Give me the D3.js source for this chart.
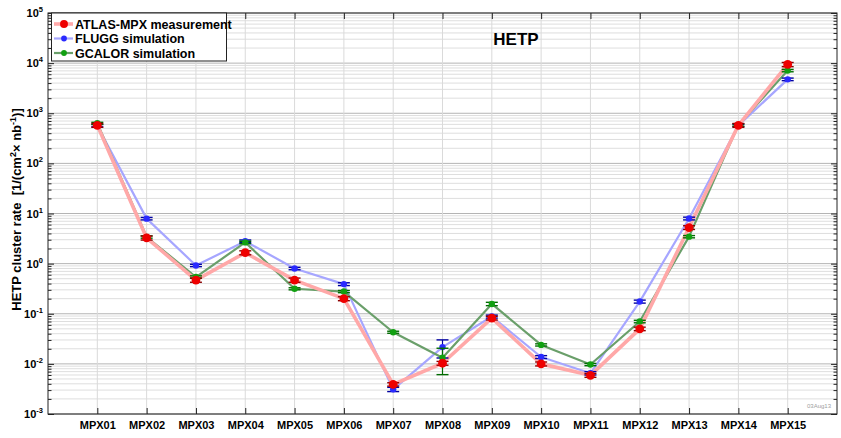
<!DOCTYPE html>
<html>
<head>
<meta charset="utf-8">
<script src="https://cdn.jsdelivr.net/npm/d3@7"></script>
<style>
  html, body { margin: 0; padding: 0; background: #fff; }
  svg { display: block; font-family: "Liberation Sans", Arial, sans-serif; }
</style>
</head>
<body>
<svg id="chart" width="841" height="438"></svg>
<script>
// Detector positions
const categories = ["MPX01","MPX02","MPX03","MPX04","MPX05","MPX06","MPX07","MPX08",
                    "MPX09","MPX10","MPX11","MPX12","MPX13","MPX14","MPX15"];

// HETP cluster rate, 1/(cm^2 x nb^-1)
const atlasValues  = [575, 3.25, 0.47, 1.65, 0.47, 0.20, 0.0039, 0.0103, 0.082, 0.0100, 0.0059, 0.050, 5.25, 575, 9400];
const atlasErrors  = [50, 0.3, 0.045, 0.15, 0.045, 0.018, 0.0003, 0.0009, 0.007, 0.0009, 0.0005, 0.004, 0.45, 50, 900];

const fluggValues  = [565, 7.9, 0.92, 2.8, 0.80, 0.39, 0.0031, 0.0216, 0.088, 0.0137, 0.0065, 0.175, 7.95, 570, 4750];
const fluggErrors  = [30, 0.45, 0.05, 0.16, 0.045, 0.025, 0.0003, 0.0085, 0.006, 0.0009, 0.0005, 0.012, 0.5, 30, 280];

const gcalorValues = [630, 3.4, 0.54, 2.65, 0.315, 0.277, 0.0428, 0.0133, 0.157, 0.0239, 0.0097, 0.070, 3.45, 585, 7100];
const gcalorErrors = [30, 0.18, 0.03, 0.14, 0.015, 0.014, 0.002, 0.0072, 0.012, 0.0012, 0.0005, 0.004, 0.18, 30, 380];

const yTickExponents = [-3, -2, -1, 0, 1, 2, 3, 4, 5];

const series = [
  { name: "FLUGG simulation",      values: fluggValues,  errors: fluggErrors,
    line: "#a6a6ff", lineWidth: 2.2, marker: "#2a2aff", err: "#0000a0", r: 3.2 },
  { name: "GCALOR simulation",     values: gcalorValues, errors: gcalorErrors,
    line: "#6a9f6a", lineWidth: 2.2, marker: "#11a011", err: "#006a00", r: 3.2 },
  { name: "ATLAS-MPX measurement", values: atlasValues,  errors: atlasErrors,
    line: "#ffa8a8", lineWidth: 3.6, marker: "#ee0000", err: "#8a0000", r: 4.4 }
];
const legendOrder = [2, 0, 1];

const svg = d3.select("#chart");
const pL = 48, pR = 837, pT = 13, pB = 414;
const W = pR - pL, H = pB - pT;

const x = d3.scalePoint().domain(categories).range([pL, pR]).padding(1);
const y = d3.scaleLog().domain([1e-3, 1e5]).range([pB, pT]);

// minor and major tick values
const minorTicks = [];
yTickExponents.slice(0, -1).forEach(e => {
  for (let k = 2; k <= 9; k++) minorTicks.push(k * Math.pow(10, e));
});
const majorTicks = yTickExponents.map(e => Math.pow(10, e));

// grid
const grid = svg.append("g");
grid.selectAll(".hmin").data(minorTicks).join("line")
  .attr("x1", pL).attr("x2", pR)
  .attr("y1", d => y(d)).attr("y2", d => y(d))
  .attr("stroke", "#dedede").attr("stroke-width", 1);
grid.selectAll(".hmaj").data(majorTicks).join("line")
  .attr("x1", pL).attr("x2", pR)
  .attr("y1", d => y(d)).attr("y2", d => y(d))
  .attr("stroke", "#b4b4b4").attr("stroke-width", 1);
grid.selectAll(".v").data(categories).join("line")
  .attr("x1", d => x(d)).attr("x2", d => x(d))
  .attr("y1", pT).attr("y2", pB)
  .attr("stroke", "#dadada").attr("stroke-width", 1);

// axes with inward ticks
const axisColor = "#222";
const gBottom = svg.append("g").attr("transform", `translate(0,${pB})`)
  .call(d3.axisBottom(x).tickSize(-6).tickSizeOuter(0).tickPadding(7));
gBottom.selectAll("text").attr("font-size", 11).attr("font-weight", "bold").attr("fill", "#000");
const gTop = svg.append("g").attr("transform", `translate(0,${pT})`)
  .call(d3.axisTop(x).tickSize(-6).tickSizeOuter(0).tickFormat(""));
const gLeft = svg.append("g").attr("transform", `translate(${pL},0)`)
  .call(d3.axisLeft(y).tickValues(majorTicks).tickSize(-6).tickSizeOuter(0).tickFormat(""));
const gLeftMinor = svg.append("g").attr("transform", `translate(${pL},0)`)
  .call(d3.axisLeft(y).tickValues(minorTicks).tickSize(-3.5).tickSizeOuter(0).tickFormat(""));
const gRight = svg.append("g").attr("transform", `translate(${pR},0)`)
  .call(d3.axisRight(y).tickValues(majorTicks).tickSize(-6).tickSizeOuter(0).tickFormat(""));
const gRightMinor = svg.append("g").attr("transform", `translate(${pR},0)`)
  .call(d3.axisRight(y).tickValues(minorTicks).tickSize(-3.5).tickSizeOuter(0).tickFormat(""));
[gBottom, gTop, gLeft, gLeftMinor, gRight, gRightMinor].forEach(g => {
  g.select(".domain").remove();
  g.selectAll("line").attr("stroke", axisColor);
});

// y tick labels: 10 with superscript exponent
const yLabels = svg.append("g");
yTickExponents.forEach(e => {
  const t = yLabels.append("text")
    .attr("x", pL - 5).attr("y", y(Math.pow(10, e)) + 4)
    .attr("text-anchor", "end").attr("font-weight", "bold").attr("fill", "#000");
  t.append("tspan").attr("font-size", 11).text("10");
  t.append("tspan").attr("font-size", 7.5).attr("dy", -5).text(String(e));
});

// box
svg.append("rect").attr("x", pL).attr("y", pT).attr("width", W).attr("height", H)
  .attr("fill", "none").attr("stroke", axisColor).attr("stroke-width", 1);

// series lines
const line = d3.line().x((d, i) => x(categories[i])).y(d => y(d));
const plot = svg.append("g");
series.forEach(s => {
  plot.append("path").datum(s.values)
    .attr("d", line).attr("fill", "none")
    .attr("stroke", s.line).attr("stroke-width", s.lineWidth)
    .attr("stroke-linejoin", "round");
});

// error bars and markers
const cap = 6;
series.forEach(s => {
  const g = plot.append("g");
  s.values.forEach((v, i) => {
    const cx = x(categories[i]);
    const hi = y(v + s.errors[i]), lo = y(Math.max(v - s.errors[i], 1e-4));
    g.append("line").attr("x1", cx).attr("x2", cx).attr("y1", hi).attr("y2", lo)
      .attr("stroke", s.err).attr("stroke-width", 1.2);
    [hi, lo].forEach(yy => g.append("line")
      .attr("x1", cx - cap).attr("x2", cx + cap).attr("y1", yy).attr("y2", yy)
      .attr("stroke", s.err).attr("stroke-width", 1.4));
    g.append("circle").attr("cx", cx).attr("cy", y(v)).attr("r", s.r).attr("fill", s.marker);
  });
});

// legend
const lg = svg.append("g");
lg.append("rect").attr("x", 51.5).attr("y", pT).attr("width", 175).attr("height", 48)
  .attr("fill", "#fff").attr("stroke", axisColor).attr("stroke-width", 1);
legendOrder.forEach((si, k) => {
  const s = series[si];
  const cy = pT + 11 + k * 14.5;
  lg.append("line").attr("x1", 54).attr("x2", 73).attr("y1", cy).attr("y2", cy)
    .attr("stroke", s.line).attr("stroke-width", s.lineWidth);
  lg.append("circle").attr("cx", 64).attr("cy", cy).attr("r", s.r * 0.9).attr("fill", s.marker);
  lg.append("text").attr("x", 75).attr("y", cy + 4.5)
    .attr("font-size", 12.5).attr("font-weight", "bold").attr("fill", "#000").text(s.name);
});

// title
svg.append("text").attr("x", 516).attr("y", 45).attr("text-anchor", "middle")
  .attr("font-size", 17).attr("font-weight", "bold").attr("fill", "#000").text("HETP");

// y axis title
const yt = svg.append("text")
  .attr("transform", `translate(21,${(pT + pB) / 2 - 4}) rotate(-90)`)
  .attr("text-anchor", "middle").attr("font-size", 13).attr("font-weight", "bold").attr("fill", "#000");
yt.append("tspan").text("HETP cluster rate\u00a0\u00a0[1/(cm");
yt.append("tspan").attr("font-size", 9).attr("dy", -5).text("2");
yt.append("tspan").attr("dy", 5).text("\u00d7 nb");
yt.append("tspan").attr("font-size", 9).attr("dy", -5).text("-1");
yt.append("tspan").attr("dy", 5).text(")]");

// date stamp
svg.append("text").attr("x", 831).attr("y", 408).attr("text-anchor", "end")
  .attr("font-size", 6).attr("fill", "#a0a0a0").text("03Aug13");
</script>
</body>
</html>
